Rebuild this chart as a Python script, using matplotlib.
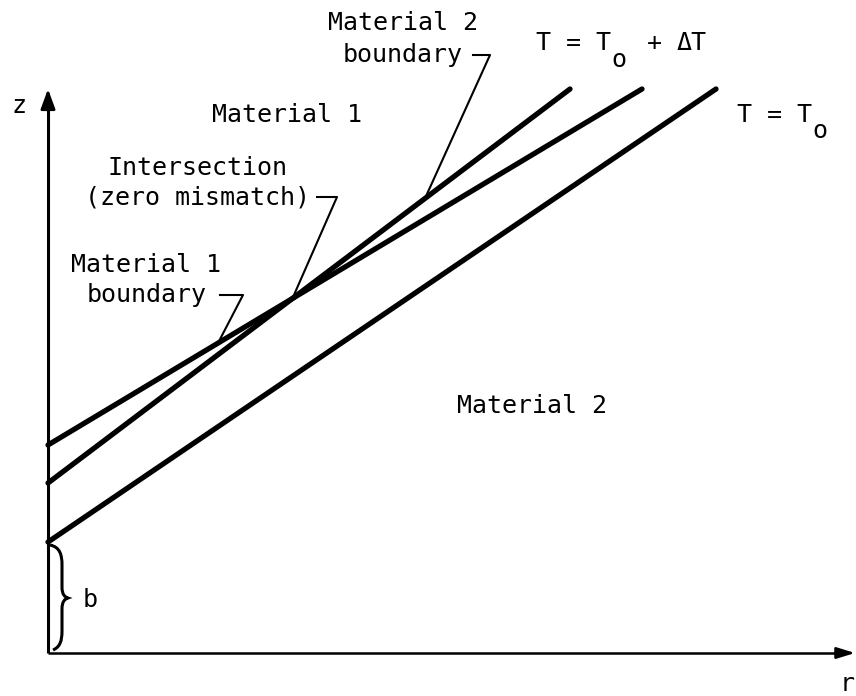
import numpy as np
import matplotlib.pyplot as plt
from matplotlib.path import Path
from matplotlib.patches import PathPatch

# r/z coordinates (arbitrary units, origin at the axes corner)
r_end = [594, 522, 668]          # Material 1 boundary, Material 2 boundary, T = To
z_start = [208, 170, 111]
z_end = [564, 564, 564]
r_axis_max = 807
z_axis_max = 564

myfont = 'DejaVu Sans Mono'
fs = 18

fig = plt.figure(figsize=(8.56, 6.96), dpi=100)
ax = fig.add_axes([0, 0, 1, 1])
ax.set_xlim(-48, 808)
ax.set_ylim(-43, 653)
ax.axis('off')

# axes with arrows
ax.plot([0, 0], [0, z_axis_max - 14], color='k', lw=2.2, solid_capstyle='butt')
ax.plot([0, r_axis_max - 10], [0, 0], color='k', lw=1.8, solid_capstyle='butt')
ax.annotate('', xy=(0, z_axis_max), xytext=(0, z_axis_max - 20),
            arrowprops=dict(arrowstyle='-|>,head_length=0.6,head_width=0.22', color='k', lw=2,
                            mutation_scale=20, shrinkA=0, shrinkB=0))
ax.annotate('', xy=(r_axis_max, 0), xytext=(r_axis_max - 20, 0),
            arrowprops=dict(arrowstyle='-|>,head_length=0.55,head_width=0.17', color='k', lw=1.8,
                            mutation_scale=20, shrinkA=0, shrinkB=0))

# the three lines
for re, z0, z1 in zip(r_end, z_start, z_end):
    ax.plot([0, re], [z0, z1], color='k', lw=3.8, solid_capstyle='round')

slope = [(z_end[i] - z_start[i]) / r_end[i] for i in range(3)]
def zline(i, r):
    return z_start[i] + slope[i] * r

# intersection of the two boundaries
r_int = (z_start[0] - z_start[1]) / (slope[1] - slope[0])
z_int = zline(0, r_int)

lw_lead = 1.5
# leaders: horizontal stub, then down to the line
ax.plot([425, 442, 377], [598, 598, zline(1, 377)], color='k', lw=lw_lead)
ax.plot([269, 289, r_int], [456, 456, z_int], color='k', lw=lw_lead)
ax.plot([172, 195, 170], [358, 358, zline(0, 170)], color='k', lw=lw_lead)

def txt(x, y, s, ha='left'):
    ax.text(x, y, s, ha=ha, va='baseline', fontsize=fs, family=myfont)

txt(-36, 540, 'z')
txt(792, -38, 'r')
txt(164, 531, 'Material 1')
txt(355, 623, 'Material 2', ha='center')
txt(355, 591, 'boundary', ha='center')
txt(150, 478, 'Intersection', ha='center')
txt(150, 448, '(zero mismatch)', ha='center')
txt(98, 381, 'Material 1', ha='center')
txt(99, 351, 'boundary', ha='center')
txt(409, 240, 'Material 2')
txt(488, 603, 'T = T')
txt(571, 586, 'o', ha='center')
txt(599, 603, '+')
txt(629, 603, '\u0394T')
txt(689, 531, 'T = T')
txt(772, 515, 'o', ha='center')
txt(35, 46, 'b')

# brace for b
verts = [(2, 108), (12, 106), (14, 98), (14, 88),
         (14, 66),
         (14, 58), (17, 56), (20, 55),
         (17, 54), (14, 52), (14, 44),
         (14, 22),
         (14, 12), (12, 6), (5, 3)]
codes = [Path.MOVETO, Path.CURVE4, Path.CURVE4, Path.CURVE4,
         Path.LINETO,
         Path.CURVE4, Path.CURVE4, Path.CURVE4,
         Path.CURVE4, Path.CURVE4, Path.CURVE4,
         Path.LINETO,
         Path.CURVE4, Path.CURVE4, Path.CURVE4]
ax.add_patch(PathPatch(Path(verts, codes), fill=False, lw=2.2, color='k'))

fig.savefig('out.png', dpi=100)
